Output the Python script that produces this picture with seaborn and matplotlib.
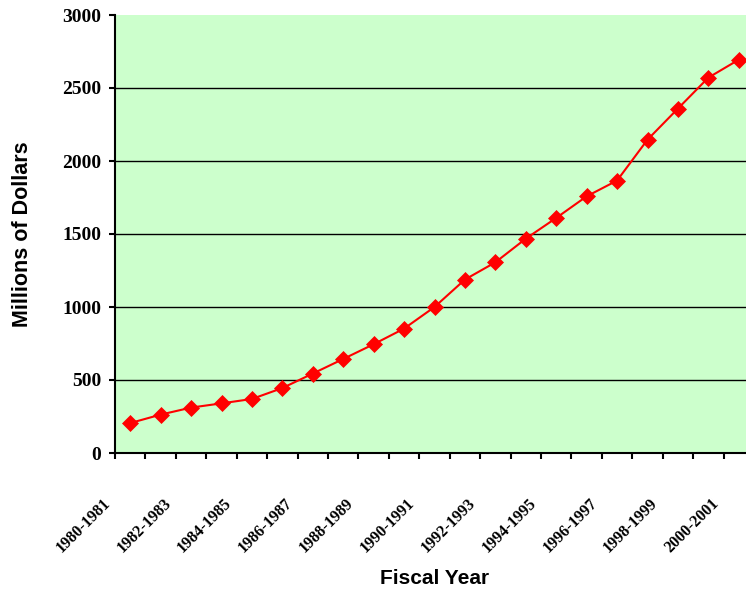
import numpy as np
import pandas as pd
import matplotlib
matplotlib.use("Agg")
import matplotlib.pyplot as plt
import matplotlib.transforms as mtransforms
import seaborn as sns

# ---- data ----
fiscal_years = ["1980-1981", "1981-1982", "1982-1983", "1983-1984", "1984-1985",
                "1985-1986", "1986-1987", "1987-1988", "1988-1989", "1989-1990",
                "1990-1991", "1991-1992", "1992-1993", "1993-1994", "1994-1995",
                "1995-1996", "1996-1997", "1997-1998", "1998-1999", "1999-2000",
                "2000-2001"]
millions = [205, 263, 311, 340, 370, 445, 544, 644, 745, 852, 1000,
            1188, 1306, 1468, 1610, 1758, 1866, 2146, 2359, 2571, 2694]
y_ticks = [0, 500, 1000, 1500, 2000, 2500, 3000]
x_title = "Fiscal Year"
y_title = "Millions of Dollars"

df = pd.DataFrame({"pos": np.arange(len(fiscal_years)),
                   "year": fiscal_years,
                   "value": millions})

W, H = 746, 593
fig = plt.figure(figsize=(W / 100, H / 100), dpi=100)
ax = fig.add_axes([115 / W, 1 - 453 / H, 639 / W, 438 / H])
ax.set_facecolor("#CCFFCC")

sns.lineplot(data=df, x="pos", y="value", ax=ax, sort=False,
             color="#FF0000", linewidth=1.5, marker="D", markersize=8.5,
             markeredgecolor="#FF0000", markerfacecolor="#FF0000",
             markeredgewidth=0.5, zorder=3)

ax.set_xlim(-0.5, len(fiscal_years) - 0.5)
ax.set_ylim(0, 3000)

# y axis
ax.set_yticks(y_ticks)
ax.set_yticklabels([str(v) for v in y_ticks], fontfamily="Liberation Serif",
                   fontweight="bold", fontsize=14)
ax.tick_params(axis="y", direction="out", length=4.5, width=1.5, pad=5.4, colors="black")
ax.yaxis.grid(True, color="black", linewidth=1.0)
ax.xaxis.grid(False)
ax.set_axisbelow(True)
for t in ax.yaxis.get_major_ticks():
    if t.get_loc() >= 3000 or t.get_loc() <= 0:
        t.gridline.set_visible(False)

# x axis: ticks at category boundaries, labels every other category
ax.set_xticks(np.arange(-0.5, len(fiscal_years), 1.0))
ax.set_xticklabels([])
ax.tick_params(axis="x", direction="out", length=4, width=1.5, colors="black")

trans = mtransforms.blended_transform_factory(ax.transData, ax.transAxes) + \
    mtransforms.ScaledTranslation(-28 / 100, -42 / 100, fig.dpi_scale_trans)
for i in range(0, len(fiscal_years), 2):
    ax.text(i, 0, fiscal_years[i], transform=trans, rotation=45,
            rotation_mode="anchor", ha="right", va="top",
            fontfamily="Liberation Serif", fontweight="bold", fontsize=11.5,
            clip_on=False)

for s in ["top", "right"]:
    ax.spines[s].set_visible(False)
for s in ["left", "bottom"]:
    ax.spines[s].set_color("black")
    ax.spines[s].set_linewidth(1.5)

ax.set_xlabel(x_title, fontfamily="Liberation Sans", fontweight="bold", fontsize=15)
ax.xaxis.set_label_coords(0.5, (453 - 579) / 438)
ax.xaxis.label.set_va("center")
ax.set_ylabel(y_title, fontfamily="Liberation Sans", fontweight="bold", fontsize=15.5)
ax.yaxis.set_label_coords((23 - 115) / 639, 0.5)
ax.yaxis.label.set_va("center")

fig.savefig("out.png", dpi=100)
